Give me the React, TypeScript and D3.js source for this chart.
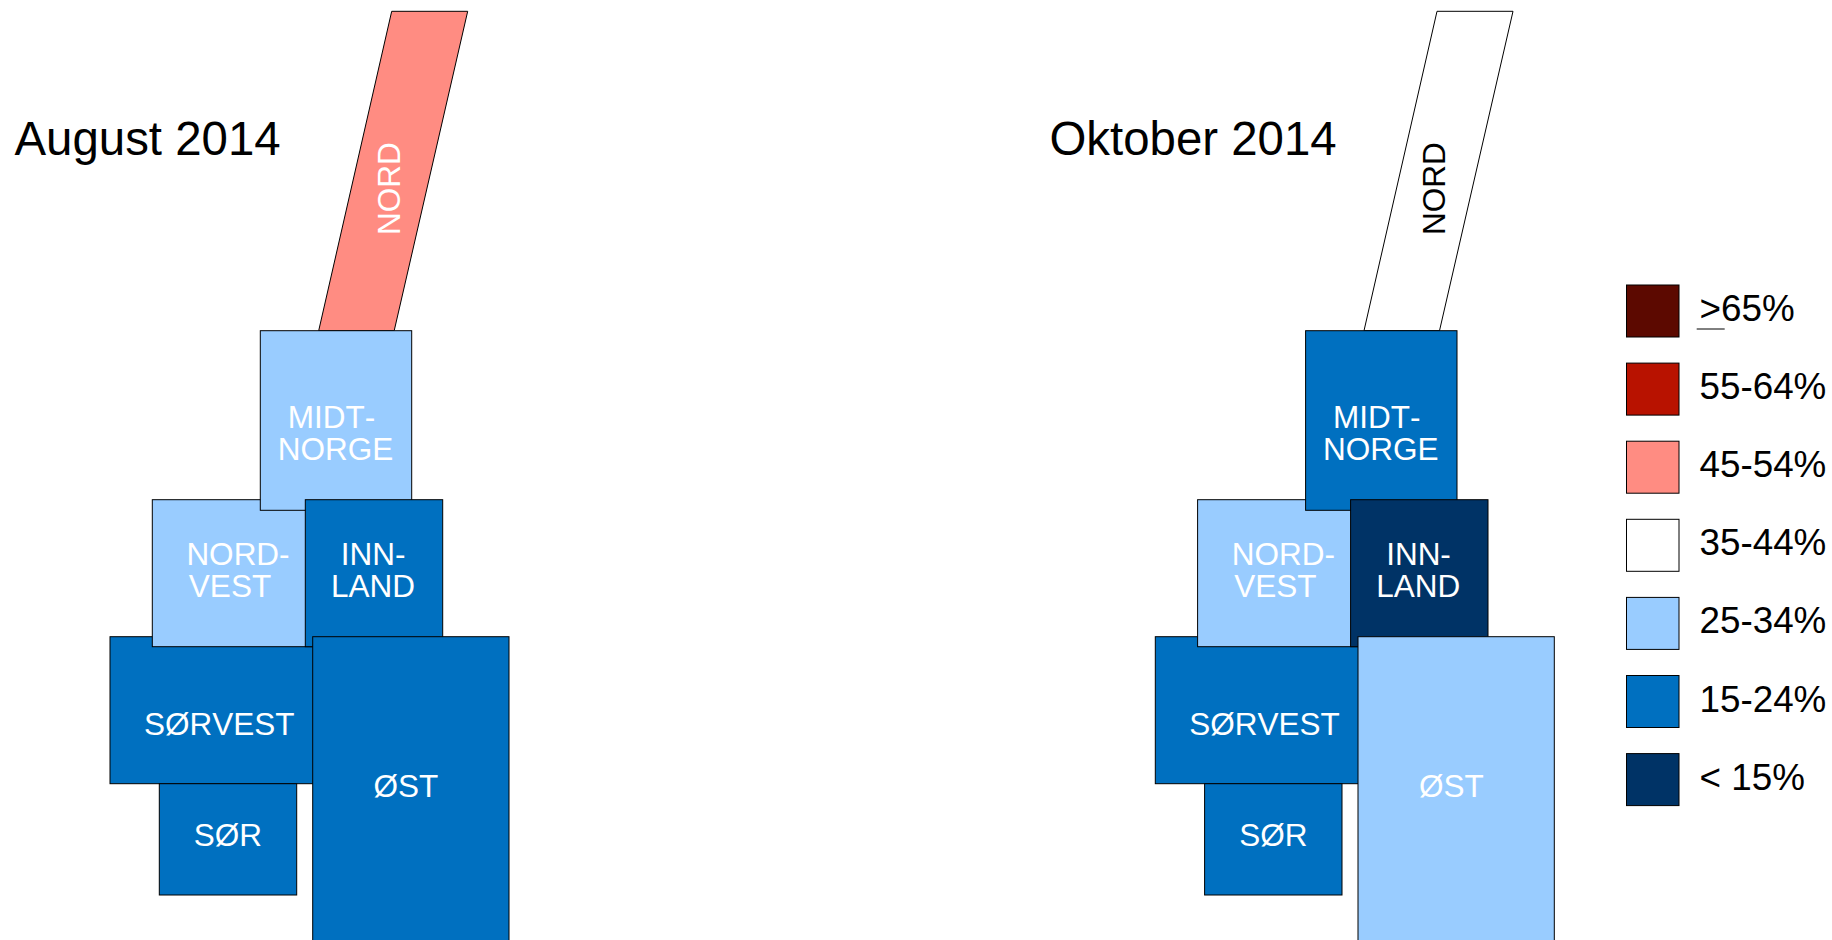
import React, { useEffect, useRef } from 'react';
import * as d3 from 'd3';

const regions = ['SØRVEST', 'NORDVEST', 'MIDT-NORGE', 'INNLAND', 'SØR', 'ØST'];
const augustShare = [20, 30, 30, 20, 20, 20];
const oktoberShare = [20, 30, 20, 10, 20, 30];
const nordShare = [50, 40];
const panelTitles = ['August 2014', 'Oktober 2014'];

// cartogram tiles, in map units of the left panel
const tileLeft = [110, 152.3, 260.3, 305.3, 159.3, 312.7];
const tileRight = [330, 324, 411.7, 442.7, 296.7, 509];
const tileTop = [636.7, 499.7, 330.7, 499.7, 783.7, 636.7];
const tileBottom = [783.7, 646.7, 510.3, 646.7, 895, 945];

const nordX = [391.7, 467.7, 394.2, 318.7];
const nordY = [11.3, 11.3, 330.7, 330.7];

const legendLabels = ['>65%', '55-64%', '45-54%', '35-44%', '25-34%', '15-24%', '< 15%'];
const bandBreaks = [15, 25, 35, 45, 55, 65];
const bandColors = ['#003366', '#0070c0', '#99ccff', '#ffffff', '#ff8c82', '#b81200', '#5c0900'];

// text lines for each tile: [text, centre x, baseline y]
const tileLines: [string, number, number][][] = [
  [['SØRVEST', 219.3, 735]],
  [['NORD-', 238, 565.3], ['VEST', 230, 597.3]],
  [['MIDT-', 331.5, 428.3], ['NORGE', 335.5, 460]],
  [['INN-', 373.2, 565.3], ['LAND', 373, 597.3]],
  [['SØR', 228, 845.7]],
  [['ØST', 406, 797.3]],
];

const FONT = '"Liberation Sans", Arial, sans-serif';

function App() {
  const ref = useRef<SVGSVGElement>(null);

  useEffect(() => {
    const svg = d3.select(ref.current);
    svg.selectAll('*').remove();

    const y = d3.scaleLinear().domain([0, 940]).range([0, 940]);
    const color = d3.scaleThreshold<number, string>().domain(bandBreaks).range(bandColors);
    const panelOffset = d3.scaleOrdinal<string, number>().domain(panelTitles).range([0, 1045.3]);
    const titleX = d3.scaleOrdinal<string, number>().domain(panelTitles).range([14.5, 1049.5]);
    const shares = [augustShare, oktoberShare];

    panelTitles.forEach((title, p) => {
      const off = panelOffset(title);
      const x = d3.scaleLinear().domain([0, 600]).range([off, off + 600]);
      const g = svg.append('g');

      g.append('text')
        .attr('x', titleX(title))
        .attr('y', 155)
        .attr('font-size', 47.4)
        .attr('fill', '#000')
        .text(title);

      // NORD is a leaning strip, drawn first so Midt-Norge covers its foot
      const outline = d3.line<number>()
        .x((d) => x(nordX[d]))
        .y((d) => y(nordY[d]))
        .curve(d3.curveLinearClosed);
      g.append('path')
        .attr('d', outline(d3.range(nordX.length)))
        .attr('fill', color(nordShare[p]))
        .attr('stroke', '#000')
        .attr('stroke-width', 1);

      const nordFill = nordShare[p] >= 35 && nordShare[p] < 45 ? '#000' : '#fff';
      g.append('text')
        .attr('transform', 'translate(' + x(400) + ' ' + y(188.5) + ') rotate(-90)')
        .attr('text-anchor', 'middle')
        .attr('font-size', 31.5)
        .attr('fill', nordFill)
        .text('NORD');

      const tiles = g.selectAll('.tile')
        .data(regions)
        .enter()
        .append('g')
        .attr('class', 'tile');

      tiles.append('rect')
        .attr('x', (_d, i) => x(tileLeft[i]))
        .attr('y', (_d, i) => y(tileTop[i]))
        .attr('width', (_d, i) => x(tileRight[i]) - x(tileLeft[i]))
        .attr('height', (_d, i) => y(tileBottom[i]) - y(tileTop[i]))
        .attr('fill', (_d, i) => color(shares[p][i]))
        .attr('stroke', '#000')
        .attr('stroke-width', 1);

      tiles.selectAll('text')
        .data((_d, i) => tileLines[i])
        .enter()
        .append('text')
        .attr('x', (d) => x(d[1]))
        .attr('y', (d) => y(d[2]))
        .attr('text-anchor', 'middle')
        .attr('font-size', 31.5)
        .attr('fill', '#fff')
        .text((d) => d[0]);
    });

    // legend
    const legendY = d3.scalePoint<string>()
      .domain(legendLabels)
      .range([285, 285 + 78.1 * (legendLabels.length - 1)]);
    const bandOf = [...bandColors].reverse();

    const legend = svg.selectAll('.legend-item')
      .data(legendLabels)
      .enter()
      .append('g')
      .attr('class', 'legend-item');

    legend.append('rect')
      .attr('x', 1626.5)
      .attr('y', (d) => legendY(d)!)
      .attr('width', 52.5)
      .attr('height', 52)
      .attr('fill', (_d, i) => bandOf[i])
      .attr('stroke', '#000')
      .attr('stroke-width', 1);

    legend.append('text')
      .attr('x', 1699.5)
      .attr('y', (d) => legendY(d)! + 36)
      .attr('font-size', 36.8)
      .attr('fill', '#000')
      .text((d) => d);

    // the ">" in the top label is underlined by a loose line, meant as a >= sign
    svg.append('line')
      .attr('x1', 1696.7)
      .attr('x2', 1724.7)
      .attr('y1', 329)
      .attr('y2', 329)
      .attr('stroke', '#000')
      .attr('stroke-width', 1);
  }, []);

  return (
    <svg
      ref={ref}
      width={1832}
      height={940}
      style={{ position: 'absolute', left: 0, top: 0, fontFamily: FONT, fontKerning: 'none', background: '#fff' }}
    />
  );
}

export default App;
